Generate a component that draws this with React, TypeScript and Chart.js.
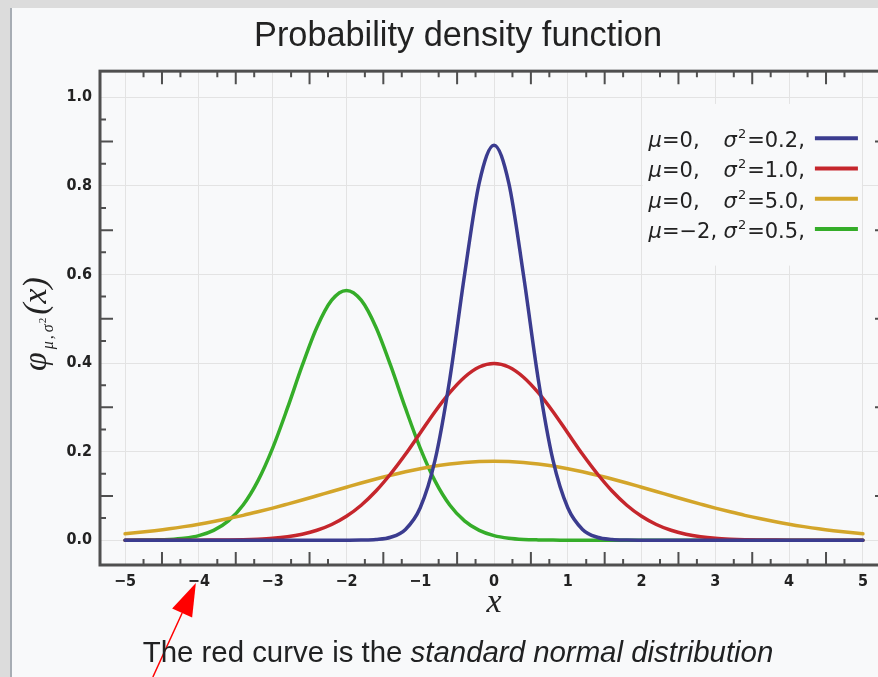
import React, { useEffect, useRef } from "react";
import { Chart, registerables } from "chart.js";

Chart.register(...registerables);

// ---------- data ----------
const xValues = [
  -5, -4.8, -4.6, -4.4, -4.2, -4, -3.8, -3.6, -3.4, -3.2, -3, -2.8, -2.6, -2.4, -2.2,
  -2, -1.8, -1.6, -1.4, -1.2, -1, -0.8, -0.6, -0.4, -0.2, 0, 0.2, 0.4, 0.6, 0.8, 1,
  1.2, 1.4, 1.6, 1.8, 2, 2.2, 2.4, 2.6, 2.8, 3, 3.2, 3.4, 3.6, 3.8, 4, 4.2, 4.4, 4.6, 4.8, 5,
];

// mu = 0, sigma^2 = 0.2
const blueValues = [
  0, 0, 0, 0, 0, 0, 0, 0, 0, 0, 0, 0, 0, 0, 0,
  0.00004, 0.0003, 0.0015, 0.0066, 0.0244, 0.0732, 0.18, 0.363, 0.598, 0.807,
  0.892,
  0.807, 0.598, 0.363, 0.18, 0.0732, 0.0244, 0.0066, 0.0015, 0.0003, 0.00004,
  0, 0, 0, 0, 0, 0, 0, 0, 0, 0, 0, 0, 0, 0, 0,
];

// mu = 0, sigma^2 = 1.0
const redValues = [
  0, 0, 0, 0, 0.0001, 0.0001, 0.0003, 0.0006, 0.0012, 0.0024, 0.0044, 0.0079, 0.0136,
  0.0224, 0.0355, 0.054, 0.079, 0.111, 0.15, 0.194, 0.242, 0.29, 0.333, 0.368, 0.391,
  0.399,
  0.391, 0.368, 0.333, 0.29, 0.242, 0.194, 0.15, 0.111, 0.079, 0.054, 0.0355, 0.0224,
  0.0136, 0.0079, 0.0044, 0.0024, 0.0012, 0.0006, 0.0003, 0.0001, 0.0001, 0, 0, 0, 0,
];

// mu = 0, sigma^2 = 5.0
const yellowValues = [
  0.0146, 0.0178, 0.0215, 0.0257, 0.0306, 0.036, 0.0421, 0.0488, 0.0561, 0.0641, 0.0725,
  0.0815, 0.0907, 0.1003, 0.11, 0.1196, 0.1291, 0.1381, 0.1467, 0.1545, 0.1614, 0.1674,
  0.1721, 0.1756, 0.1777,
  0.1784,
  0.1777, 0.1756, 0.1721, 0.1674, 0.1614, 0.1545, 0.1467, 0.1381, 0.1291, 0.1196, 0.11,
  0.1003, 0.0907, 0.0815, 0.0725, 0.0641, 0.0561, 0.0488, 0.0421, 0.036, 0.0306, 0.0257,
  0.0215, 0.0178, 0.0146,
];

// mu = -2, sigma^2 = 0.5
const greenValues = [
  0.0001, 0.0002, 0.0007, 0.0018, 0.0045, 0.0103, 0.0221, 0.0436, 0.0795, 0.134, 0.208,
  0.298, 0.394, 0.481, 0.542, 0.564, 0.542, 0.481, 0.394, 0.298, 0.208, 0.134, 0.0795,
  0.0436, 0.0221, 0.0103, 0.0045, 0.0018, 0.0007, 0.0002, 0.0001,
  0, 0, 0, 0, 0, 0, 0, 0, 0, 0, 0, 0, 0, 0, 0, 0, 0, 0, 0, 0,
];

const seriesValues = [blueValues, redValues, yellowValues, greenValues];
const seriesColors = ["#3b3c8f", "#c5262c", "#d3a52a", "#35ad29"];
const muLabels = ["μ=0,", "μ=0,", "μ=0,", "μ=−2,"];
const sigmaLabels = ["=0.2,", "=1.0,", "=5.0,", "=0.5,"];
const titleText = "Probability density function";
const captionPlain = "The red curve is the ";
const captionItalic = "standard normal distribution";

const BG = "#f8f9fa";
const INK = "#222222";
const FRAME = "#4f4f4f";

type Run = { t: string; font: string; dy?: number; gap?: number };

function runsWidth(ctx: CanvasRenderingContext2D, runs: Run[]) {
  let w = 0;
  for (const r of runs) {
    ctx.font = r.font;
    w += ctx.measureText(r.t).width + (r.gap || 0);
  }
  return w;
}

function drawRuns(ctx: CanvasRenderingContext2D, runs: Run[], x: number, y: number) {
  let cx = x;
  for (const r of runs) {
    ctx.font = r.font;
    ctx.fillText(r.t, cx, y + (r.dy || 0));
    cx += ctx.measureText(r.t).width + (r.gap || 0);
  }
  return cx;
}

const decorPlugin = {
  id: "decor",
  afterDatasetsDraw(chart: any) {
    const { ctx, chartArea: a, scales } = chart;
    const xs = scales.x;
    const ys = scales.y;
    // legend box covering the grid
    const bx0 = xs.getPixelForValue(2) + 1;
    const bx1 = xs.getPixelForValue(5) - 1;
    const by0 = ys.getPixelForValue(0.985);
    const by1 = ys.getPixelForValue(0.62);
    ctx.save();
    ctx.fillStyle = BG;
    ctx.fillRect(bx0, by0, bx1 - bx0, by1 - by0);
    ctx.fillStyle = INK;
    ctx.textBaseline = "alphabetic";
    ctx.textAlign = "left";
    chart.data.datasets.forEach((ds: any, i: number) => {
      const base = a.top + 76 + i * 30.3;
      const mx = bx0 + 6;
      drawRuns(
        ctx,
        [
          { t: muLabels[i].slice(0, 1), font: "italic 21px 'DejaVu Sans'" },
          { t: muLabels[i].slice(1), font: "21px 'DejaVu Sans'" },
        ],
        mx,
        base
      );
      drawRuns(
        ctx,
        [
          { t: "σ", font: "italic 21px 'DejaVu Sans'", gap: 1 },
          { t: "2", font: "13px 'DejaVu Sans'", dy: -9, gap: 1 },
          { t: sigmaLabels[i], font: "21px 'DejaVu Sans'" },
        ],
        mx + 75,
        base
      );
      ctx.strokeStyle = ds.borderColor;
      ctx.lineWidth = 4;
      ctx.beginPath();
      ctx.moveTo(bx1 - 47, base - 9);
      ctx.lineTo(bx1 - 4, base - 9);
      ctx.stroke();
    });
    ctx.restore();
  },
  afterDraw(chart: any) {
    const { ctx, chartArea: a, scales } = chart;
    const xs = scales.x;
    const ys = scales.y;
    ctx.save();
    // inner tick marks
    ctx.strokeStyle = FRAME;
    ctx.lineWidth = 2;
    ctx.beginPath();
    for (let k = -21; k <= 21; k++) {
      if (k % 4 === 0) continue;
      const px = xs.getPixelForValue(k * 0.25);
      if (px < a.left + 8 || px > a.right - 8) continue;
      const len = k % 2 === 0 ? 13 : 6;
      ctx.moveTo(px, a.bottom);
      ctx.lineTo(px, a.bottom - len);
      ctx.moveTo(px, a.top);
      ctx.lineTo(px, a.top + len);
    }
    for (let k = -2; k <= 22; k++) {
      if (k % 4 === 0) continue;
      const py = ys.getPixelForValue(k * 0.05);
      if (py < a.top + 8 || py > a.bottom - 8) continue;
      const len = k % 2 === 0 ? 13 : 6;
      ctx.moveTo(a.left, py);
      ctx.lineTo(a.left + len, py);
      ctx.moveTo(a.right, py);
      ctx.lineTo(a.right - len, py);
    }
    ctx.stroke();
    // frame
    ctx.lineWidth = 3;
    ctx.strokeRect(a.left, a.top, a.right - a.left, a.bottom - a.top);

    // y axis title: φ_{μ,σ²}(x)
    ctx.fillStyle = INK;
    ctx.textAlign = "left";
    ctx.textBaseline = "alphabetic";
    const main = "italic 34px 'Liberation Serif'";
    const sub = "italic 16px 'Liberation Serif'";
    const runs: Run[] = [
      { t: "φ", font: main, gap: 3 },
      { t: "μ", font: sub, dy: 7, gap: 2 },
      { t: ",", font: sub, dy: 7, gap: 3 },
      { t: "σ", font: sub, dy: 7, gap: 1 },
      { t: "2", font: "11px 'Liberation Serif'", dy: 0, gap: 3 },
      { t: "(x)", font: main },
    ];
    const w = runsWidth(ctx, runs);
    ctx.save();
    ctx.translate(a.left - 54, (a.top + a.bottom) / 2 + 6);
    ctx.rotate(-Math.PI / 2);
    drawRuns(ctx, runs, -w / 2, 0);
    ctx.restore();

    // red annotation arrow pointing at the −4 tick label
    const tipX = xs.getPixelForValue(-4) - 3;
    const tipY = a.bottom + 18;
    const tailX = tipX - 43;
    const tailY = chart.height;
    const dx = tipX - tailX;
    const dy = tipY - tailY;
    const L = Math.hypot(dx, dy);
    const ux = dx / L;
    const uy = dy / L;
    const hx = tipX - ux * 33;
    const hy = tipY - uy * 33;
    ctx.strokeStyle = "#ff0000";
    ctx.fillStyle = "#ff0000";
    ctx.lineWidth = 1.5;
    ctx.beginPath();
    ctx.moveTo(tailX, tailY);
    ctx.lineTo(hx, hy);
    ctx.stroke();
    ctx.beginPath();
    ctx.moveTo(tipX, tipY);
    ctx.lineTo(hx - uy * 11, hy + ux * 11);
    ctx.lineTo(hx + uy * 11, hy - ux * 11);
    ctx.closePath();
    ctx.fill();
    ctx.restore();
  },
};

const tickFont = { family: "'DejaVu Sans Condensed', 'DejaVu Sans'", size: 16, weight: "bold" as const };

export default function App() {
  const ref = useRef<HTMLCanvasElement>(null);

  useEffect(() => {
    document.body.style.margin = "0";
    const datasets = seriesValues.map((vals, i) => ({
      label: muLabels[i] + " σ²" + sigmaLabels[i],
      data: xValues.map((x, j) => ({ x, y: vals[j] })),
      borderColor: seriesColors[i],
      backgroundColor: seriesColors[i],
      borderWidth: 3.5,
      pointRadius: 0,
      fill: false,
      cubicInterpolationMode: "monotone" as const,
      borderCapStyle: "round" as const,
    }));
    const chart = new Chart(ref.current!, {
      type: "line",
      data: { datasets },
      plugins: [decorPlugin],
      options: {
        responsive: false,
        maintainAspectRatio: false,
        animation: false,
        layout: { padding: { left: 28, right: 28, top: 0, bottom: 52 } },
        plugins: {
          legend: { display: false },
          tooltip: { enabled: false },
          title: {
            display: true,
            text: titleText,
            color: INK,
            font: { family: "'Liberation Sans'", size: 34.3, weight: "normal" },
            padding: { top: 15.6, bottom: 14.4 },
          },
        },
        scales: {
          x: {
            type: "linear",
            min: -5.34,
            max: 5.34,
            afterFit: (s: any) => {
              s.height = 60;
            },
            ticks: {
              stepSize: 1,
              includeBounds: false,
              padding: 7,
              color: INK,
              font: tickFont,
              maxRotation: 0,
              callback: (v: any) => (Number(v) < 0 ? "−" + Math.abs(Number(v)) : String(v)),
            },
            grid: { color: "#e3e3e3", lineWidth: 1, drawTicks: false },
            border: { display: false },
            title: {
              display: true,
              text: "x",
              color: INK,
              font: { family: "'Liberation Serif'", size: 34, style: "italic" },
              padding: { top: 0, bottom: 2 },
            },
          },
          y: {
            type: "linear",
            min: -0.056,
            max: 1.059,
            afterFit: (s: any) => {
              s.width = 72;
            },
            ticks: {
              stepSize: 0.2,
              includeBounds: false,
              padding: 8,
              color: INK,
              font: tickFont,
              callback: (v: any) => Number(v).toFixed(1),
            },
            grid: { color: "#e3e3e3", lineWidth: 1, drawTicks: false },
            border: { display: false },
          },
        },
      },
    } as any);
    return () => chart.destroy();
  }, []);

  return (
    <div
      style={{
        position: "fixed",
        left: 0,
        top: 0,
        width: 878,
        height: 677,
        overflow: "hidden",
        background: BG,
      }}
    >
      <canvas
        ref={ref}
        width={916}
        height={677}
        style={{ position: "absolute", left: 0, top: 0, width: 916, height: 677 }}
      />
      <div
        style={{
          position: "absolute",
          left: 0,
          top: 635,
          width: 916,
          textAlign: "center",
          font: "29.4px 'Liberation Sans'",
          lineHeight: "34px",
          color: "#202122",
          whiteSpace: "nowrap",
        }}
      >
        {captionPlain}
        <i>{captionItalic}</i>
      </div>
      <div style={{ position: "absolute", left: 0, top: 0, width: 878, height: 8, background: "#dcdcdc" }} />
      <div style={{ position: "absolute", left: 0, top: 8, width: 10, height: 669, background: "#dcdcdc" }} />
      <div style={{ position: "absolute", left: 10, top: 8, width: 2, height: 669, background: "#a7adb4" }} />
    </div>
  );
}
